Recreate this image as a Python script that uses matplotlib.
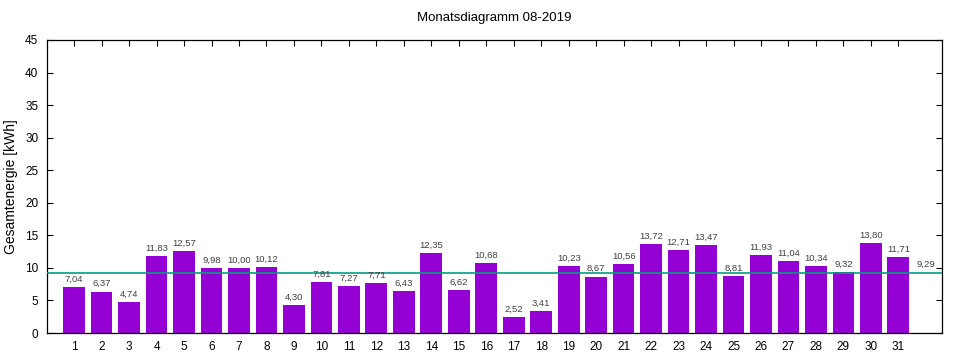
import matplotlib
matplotlib.use("Agg")
import matplotlib.pyplot as plt

days = list(range(1, 32))
values = [7.04, 6.37, 4.74, 11.83, 12.57, 9.98, 10.00, 10.12, 4.30, 7.81, 7.27, 7.71,
          6.43, 12.35, 6.62, 10.68, 2.52, 3.41, 10.23, 8.67, 10.56, 13.72, 12.71, 13.47,
          8.81, 11.93, 11.04, 10.34, 9.32, 13.80, 11.71]
average = 9.29
title = "Monatsdiagramm 08-2019"
ylabel = "Gesamtenergie [kWh]"
yticks = list(range(0, 46, 5))

plt.rcParams['font.family'] = ['Liberation Sans', 'DejaVu Sans']

fig = plt.figure(figsize=(9.6, 3.6), dpi=100)
ax = fig.add_axes([0.0486, 0.075, 0.9324, 0.814])

ax.bar(days, values, width=0.79, color='#9400D3', zorder=2)
ax.axhline(average, color='#009E80', lw=1.2, zorder=3)

def fmt(v):
    return f"{v:.2f}".replace('.', ',')

for d, v in zip(days, values):
    ax.text(d, v + 0.5, fmt(v), ha='center', va='bottom', fontsize=6.8, color='#404040')
ax.text(32, average + 0.5, fmt(average), ha='center', va='bottom', fontsize=6.8, color='#404040')

ax.set_xlim(0, 32.58)
ax.set_ylim(0, 45)
ax.set_xticks(days)
ax.set_xticklabels([str(d) for d in days])
ax.set_yticks(yticks)
ax.tick_params(direction='in', length=4, width=0.8, top=True, right=True, labelsize=8.5, pad=6)
for s in ax.spines.values():
    s.set_linewidth(0.9)

ax.set_title(title, fontsize=9.5, pad=14)
ax.set_ylabel(ylabel, fontsize=10, labelpad=5)

fig.savefig("out.png", dpi=100)
